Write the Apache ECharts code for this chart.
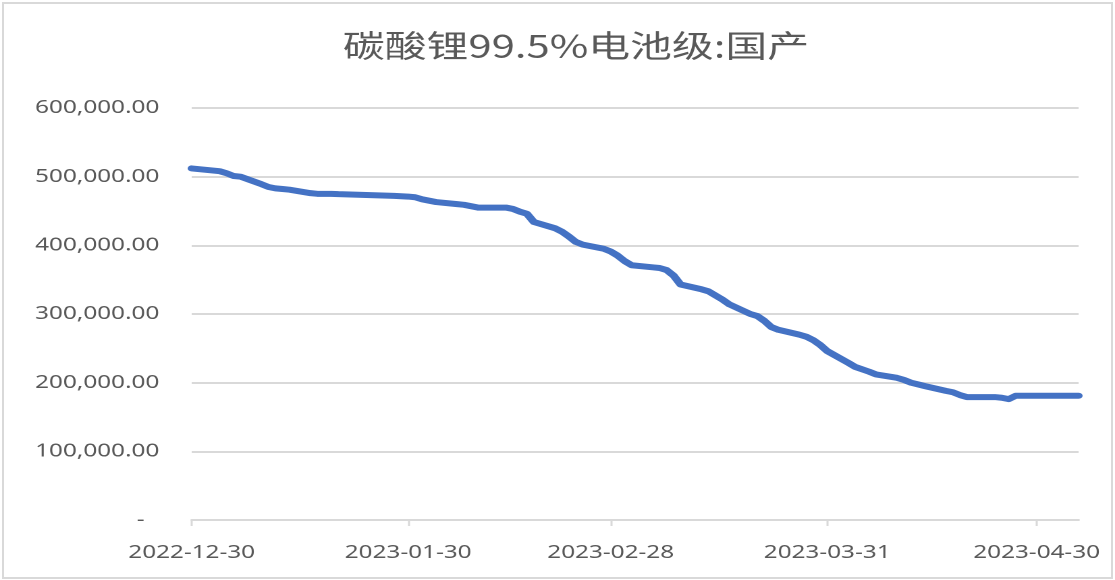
<!DOCTYPE html>
<html>
<head>
<meta charset="utf-8">
<script src="https://cdn.jsdelivr.net/npm/echarts@6/dist/echarts.min.js"></script>
<style>
  html, body { margin: 0; padding: 0; background: #fff; }
  #wrap { position: absolute; left: 0; top: 0; width: 1115px; height: 580px; overflow: hidden; background: #fff; }
  #chart { position: absolute; left: 0; top: 0; width: 826px; height: 580px; transform: scaleX(1.3499); transform-origin: 0 0; }
  #border { position: absolute; left: 2px; top: 2px; width: 1107px; height: 573px; border: 2px solid #d9d9d9; pointer-events: none; }
</style>
</head>
<body>
<div id="wrap"><div id="chart"></div><div id="border"></div></div>
<script>
const titleText = '碳酸锂99.5%电池级:国产';
const dates = [
  '2022-12-30','2023-01-03','2023-01-04','2023-01-05','2023-01-06','2023-01-09','2023-01-10','2023-01-11',
  '2023-01-12','2023-01-13','2023-01-16','2023-01-17','2023-01-18','2023-01-19','2023-01-20','2023-01-28',
  '2023-01-29','2023-01-30','2023-01-31','2023-02-01','2023-02-02','2023-02-03','2023-02-06','2023-02-07',
  '2023-02-08','2023-02-09','2023-02-10','2023-02-13','2023-02-14','2023-02-15','2023-02-16','2023-02-17',
  '2023-02-20','2023-02-21','2023-02-22','2023-02-23','2023-02-24','2023-02-27','2023-02-28','2023-03-01',
  '2023-03-02','2023-03-03','2023-03-06','2023-03-07','2023-03-08','2023-03-09','2023-03-10','2023-03-13',
  '2023-03-14','2023-03-15','2023-03-16','2023-03-17','2023-03-20','2023-03-21','2023-03-22','2023-03-23',
  '2023-03-24','2023-03-27','2023-03-28','2023-03-29','2023-03-30','2023-03-31','2023-04-03','2023-04-04',
  '2023-04-06','2023-04-07','2023-04-10','2023-04-11','2023-04-12','2023-04-13','2023-04-14','2023-04-17',
  '2023-04-18','2023-04-19','2023-04-20','2023-04-21','2023-04-24','2023-04-25','2023-04-26','2023-04-27',
  '2023-04-28','2023-05-04','2023-05-05','2023-05-06'
];
const prices = [
  512000,508000,505000,501000,500000,489000,485000,483000,
  482000,481000,476000,475000,475000,475000,474500,472000,
  471500,471000,470000,467000,465000,463000,460000,459000,
  457000,455000,455000,455000,453000,449000,446000,434000,
  425000,420000,413000,405000,401000,395000,391000,385000,
  377000,371000,368000,367000,364000,356000,343000,336000,
  333000,327000,321000,314000,300000,297000,290000,281000,
  277000,270000,267000,262000,255000,246000,229000,223000,
  216000,212000,207000,204000,200000,197500,195000,188000,
  186000,182000,179000,179000,179000,178000,176000,181000,
  181000,181000,181000,181000
];
const xTickDates = ['2022-12-30','2023-01-30','2023-02-28','2023-03-31','2023-04-30'];
const xMin = '2022-12-30';
const xMax = '2023-05-06';
const yTicks = [0, 100000, 200000, 300000, 400000, 500000, 600000];

function t(s) { const p = s.split('-').map(Number); return new Date(p[0], p[1] - 1, p[2]).getTime(); }
function pad(n) { return n < 10 ? '0' + n : '' + n; }
function fmtDate(v) { const d = new Date(v); return d.getFullYear() + '-' + pad(d.getMonth() + 1) + '-' + pad(d.getDate()); }

const textColor = '#595959';
const gridColor = '#d9d9d9';
const numFont = 'Noto Sans';

const chart = echarts.init(document.getElementById('chart'), null, { renderer: 'canvas', devicePixelRatio: 2 });
chart.setOption({
  animation: false,
  backgroundColor: '#fff',
  title: {
    text: titleText,
    left: 249,
    top: 25,
    textStyle: { fontFamily: 'Noto Sans CJK SC', fontSize: 31, fontWeight: 'normal', color: textColor }
  },
  grid: { left: 142, right: 27, top: 108, bottom: 60, containLabel: false },
  xAxis: {
    type: 'value',
    min: t(xMin),
    max: t(xMax),
    axisLine: { show: true, lineStyle: { color: gridColor, width: 2 } },
    axisTick: { show: true, length: 6, lineStyle: { color: gridColor, width: 1.5 }, customValues: xTickDates.map(t) },
    axisLabel: {
      customValues: xTickDates.map(t),
      formatter: fmtDate,
      margin: 24,
      fontFamily: numFont, fontSize: 18, color: textColor,
      hideOverlap: false
    },
    splitLine: { show: false }
  },
  yAxis: {
    type: 'value',
    min: yTicks[0],
    max: yTicks[yTicks.length - 1],
    interval: yTicks[1] - yTicks[0],
    axisLine: { show: false },
    axisTick: { show: false },
    axisLabel: {
      margin: 24,
      fontFamily: numFont, fontSize: 18, color: textColor,
      formatter: function (v) {
        if (v === 0) return '{d|-}';
        return v.toLocaleString('en-US', { minimumFractionDigits: 2, maximumFractionDigits: 2 });
      },
      rich: { d: { fontFamily: numFont, fontSize: 18, color: textColor, padding: [0, 11, 0, 0] } }
    },
    splitLine: { show: true, lineStyle: { color: gridColor, width: 2 } }
  },
  series: [{
    type: 'line',
    data: dates.map((d, i) => [t(d), prices[i]]),
    showSymbol: false,
    symbol: 'none',
    smooth: false,
    lineStyle: { color: '#4472C4', width: 6, cap: 'round', join: 'round' },
    itemStyle: { color: '#4472C4' }
  }]
});
</script>
</body>
</html>
